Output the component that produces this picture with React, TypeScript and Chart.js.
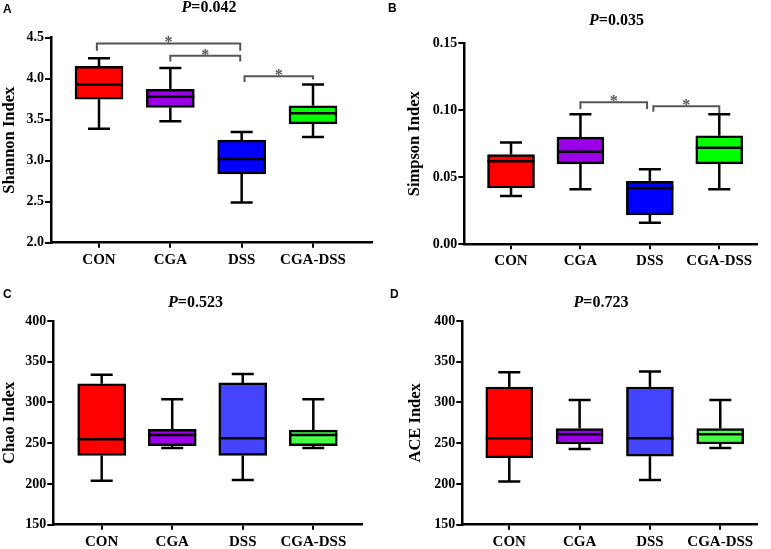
import React, { useEffect, useRef } from "react";
import { Chart, registerables } from "chart.js";

Chart.register(...registerables);

// ---------- data ----------
const categories = ["CON", "CGA", "DSS", "CGA-DSS"];

const shannonMin = [3.39, 3.48, 2.49, 3.29];
const shannonQ1 = [3.75, 3.65, 2.84, 3.45];
const shannonMedian = [3.93, 3.78, 3.02, 3.58];
const shannonQ3 = [4.15, 3.87, 3.25, 3.67];
const shannonMax = [4.25, 4.13, 3.35, 3.93];
const shannonTicks = [2.0, 2.5, 3.0, 3.5, 4.0, 4.5];
// [from, to, level, left end, right end]
const shannonBrackets = [
  [-0.03, 1.98, 4.43, 4.34, 4.34],
  [1.0, 1.98, 4.28, 4.21, 4.21],
  [2.04, 3.0, 4.03, 3.96, 3.99],
];

const simpsonMin = [0.036, 0.041, 0.016, 0.041];
const simpsonQ1 = [0.042, 0.06, 0.022, 0.06];
const simpsonMedian = [0.062, 0.069, 0.042, 0.072];
const simpsonQ3 = [0.067, 0.08, 0.047, 0.081];
const simpsonMax = [0.076, 0.097, 0.056, 0.097];
const simpsonTicks = [0.0, 0.05, 0.1, 0.15];
const simpsonBrackets = [
  [1.0, 1.96, 0.106, 0.101, 0.101],
  [2.05, 3.0, 0.103, 0.099, 0.098],
];

const chaoMin = [204, 244, 205, 244];
const chaoQ1 = [235, 247, 235, 247];
const chaoMedian = [255, 260, 256, 260];
const chaoQ3 = [323, 267, 324, 266];
const chaoMax = [334, 304, 335, 304];
const chaoTicks = [150, 200, 250, 300, 350, 400];

const aceMin = [203, 243, 205, 244];
const aceQ1 = [232, 249, 234, 249];
const aceMedian = [256, 261, 256, 261];
const aceQ3 = [319, 268, 319, 268];
const aceMax = [337, 303, 338, 303];
const aceTicks = [150, 200, 250, 300, 350, 400];

const pValues = ["0.042", "0.035", "0.523", "0.723"];
const panelLetters = ["A", "B", "C", "D"];
const yTitles = ["Shannon Index", "Simpson Index", "Chao Index", "ACE Index"];

// ---------- styles ----------
const colorsTop = ["#FF0000", "#9B00E8", "#0000FF", "#00FF00"];
const colorsBottom = ["#FF0000", "#9B00E8", "#4444FF", "#44FF44"];
const SERIF = "'Liberation Serif', 'Times New Roman', serif";
const SANS = "'Liberation Sans', Arial, sans-serif";

type PanelCfg = {
  left: number; top: number; width: number; height: number;
  plotLeft: number; plotRight: number; plotTop: number; plotBottom: number;
  xMin: number; xMax: number; decimals: number;
  ticks: number[]; yTitle: string; yTitlePad: number;
  p: string; titleX: number; titleY: number;
  letter: string; letterX: number; letterY: number;
  min: number[]; q1: number[]; med: number[]; q3: number[]; max: number[];
  colors: string[]; brackets: number[][]; boxWidth: number;
};

const panels: PanelCfg[] = [
  {
    left: 0, top: 0, width: 385, height: 275,
    plotLeft: 51, plotRight: 372, plotTop: 37.7, plotBottom: 242.7,
    xMin: -0.673, xMax: 3.827, decimals: 1,
    ticks: shannonTicks, yTitle: yTitles[0], yTitlePad: 0,
    p: pValues[0], titleX: 209, titleY: 8,
    letter: panelLetters[0], letterX: 3, letterY: 13.3,
    min: shannonMin, q1: shannonQ1, med: shannonMedian, q3: shannonQ3, max: shannonMax,
    colors: colorsTop, brackets: shannonBrackets, boxWidth: 48,
  },
  {
    left: 385, top: 0, width: 386, height: 275,
    plotLeft: 79.3, plotRight: 371.7, plotTop: 43.3, plotBottom: 244.3,
    xMin: -0.673, xMax: 3.539, decimals: 2,
    ticks: simpsonTicks, yTitle: yTitles[1], yTitlePad: 20,
    p: pValues[1], titleX: 231.5, titleY: 21,
    letter: panelLetters[1], letterX: 3, letterY: 11.7,
    min: simpsonMin, q1: simpsonQ1, med: simpsonMedian, q3: simpsonQ3, max: simpsonMax,
    colors: colorsTop, brackets: simpsonBrackets, boxWidth: 47,
  },
  {
    left: 0, top: 275, width: 385, height: 274,
    plotLeft: 53.3, plotRight: 361.7, plotTop: 46, plotBottom: 249.7,
    xMin: -0.686, xMax: 3.686, decimals: 0,
    ticks: chaoTicks, yTitle: yTitles[2], yTitlePad: 0,
    p: pValues[2], titleX: 195.5, titleY: 27.7,
    letter: panelLetters[2], letterX: 3, letterY: 22.7,
    min: chaoMin, q1: chaoQ1, med: chaoMedian, q3: chaoQ3, max: chaoMax,
    colors: colorsBottom, brackets: [], boxWidth: 48,
  },
  {
    left: 385, top: 275, width: 386, height: 274,
    plotLeft: 77.3, plotRight: 371.7, plotTop: 46, plotBottom: 249.7,
    xMin: -0.668, xMax: 3.518, decimals: 0,
    ticks: aceTicks, yTitle: yTitles[3], yTitlePad: 21,
    p: pValues[3], titleX: 216, titleY: 28,
    letter: panelLetters[3], letterX: 5, letterY: 23,
    min: aceMin, q1: aceQ1, med: aceMedian, q3: aceQ3, max: aceMax,
    colors: colorsBottom, brackets: [], boxWidth: 47,
  },
];

const boxPlugin = {
  id: "boxExtras",
  beforeDatasetsDraw(chart: any, _args: any, opts: any) {
    const cfg: PanelCfg = opts.cfg;
    if (!cfg) return;
    const { ctx } = chart;
    const xs = chart.scales.x;
    const ys = chart.scales.y;
    const capHalf = 11;
    ctx.save();
    ctx.strokeStyle = "#000";
    ctx.lineWidth = 2.5;
    ctx.lineCap = "butt";
    categories.forEach((_c, i) => {
      const x = xs.getPixelForValue(i);
      const yMax = ys.getPixelForValue(cfg.max[i]);
      const yQ3 = ys.getPixelForValue(cfg.q3[i]);
      const yQ1 = ys.getPixelForValue(cfg.q1[i]);
      const yMin = ys.getPixelForValue(cfg.min[i]);
      ctx.beginPath();
      ctx.moveTo(x, yQ3);
      ctx.lineTo(x, yMax);
      ctx.moveTo(x - capHalf, yMax);
      ctx.lineTo(x + capHalf, yMax);
      ctx.moveTo(x, yQ1);
      ctx.lineTo(x, yMin);
      ctx.moveTo(x - capHalf, yMin);
      ctx.lineTo(x + capHalf, yMin);
      ctx.stroke();
    });
    ctx.restore();
  },
  afterDatasetsDraw(chart: any, _args: any, opts: any) {
    const cfg: PanelCfg = opts.cfg;
    if (!cfg) return;
    const { ctx } = chart;
    const xs = chart.scales.x;
    const ys = chart.scales.y;
    ctx.save();
    ctx.strokeStyle = "#000";
    ctx.lineWidth = 2.5;
    categories.forEach((_c, i) => {
      const x = xs.getPixelForValue(i);
      const ym = ys.getPixelForValue(cfg.med[i]);
      const hw = cfg.boxWidth / 2;
      ctx.beginPath();
      ctx.moveTo(x - hw, ym);
      ctx.lineTo(x + hw, ym);
      ctx.stroke();
    });
    // significance brackets
    ctx.strokeStyle = "#555";
    ctx.fillStyle = "#555";
    ctx.lineWidth = 2;
    ctx.font = `bold 16px ${SERIF}`;
    ctx.textAlign = "center";
    ctx.textBaseline = "alphabetic";
    cfg.brackets.forEach((b) => {
      const x1 = xs.getPixelForValue(b[0]);
      const x2 = xs.getPixelForValue(b[1]);
      const yl = ys.getPixelForValue(b[2]);
      const y1 = ys.getPixelForValue(b[3]);
      const y2 = ys.getPixelForValue(b[4]);
      ctx.beginPath();
      ctx.moveTo(x1, y1);
      ctx.lineTo(x1, yl);
      ctx.lineTo(x2, yl);
      ctx.lineTo(x2, y2);
      ctx.stroke();
      ctx.fillText("*", (x1 + x2) / 2, yl + 4);
    });
    ctx.restore();
  },
  afterDraw(chart: any, _args: any, opts: any) {
    const cfg: PanelCfg = opts.cfg;
    if (!cfg) return;
    const { ctx } = chart;
    ctx.save();
    // title "P=..."
    const fItalic = `bold italic 16px ${SERIF}`;
    const fBold = `bold 16px ${SERIF}`;
    ctx.font = fItalic;
    const w1 = ctx.measureText("P").width;
    ctx.font = fBold;
    const rest = "=" + cfg.p;
    const w2 = ctx.measureText(rest).width;
    const sx = cfg.titleX - (w1 + w2) / 2;
    ctx.fillStyle = "#000";
    ctx.textAlign = "left";
    ctx.textBaseline = "middle";
    ctx.font = fItalic;
    ctx.fillText("P", sx, cfg.titleY);
    ctx.font = fBold;
    ctx.fillText(rest, sx + w1, cfg.titleY);
    // panel letter
    ctx.font = `bold 12px ${SANS}`;
    ctx.textBaseline = "alphabetic";
    ctx.fillText(cfg.letter, cfg.letterX, cfg.letterY);
    ctx.restore();
  },
};

function PanelChart({ cfg }: { cfg: PanelCfg }) {
  const ref = useRef<HTMLCanvasElement | null>(null);
  useEffect(() => {
    if (!ref.current) return;
    const chart = new Chart(ref.current, {
      type: "bar",
      data: {
        datasets: [
          {
            data: categories.map((_c, i) => ({ x: i, y: [cfg.q1[i], cfg.q3[i]] })) as any,
            backgroundColor: cfg.colors,
            borderColor: "#000",
            borderWidth: 2.5,
            borderSkipped: false,
            barThickness: cfg.boxWidth,
            grouped: false,
          } as any,
        ],
      },
      options: {
        responsive: false,
        animation: false,
        devicePixelRatio: 1,
        layout: {
          padding: {
            left: 0,
            top: cfg.plotTop,
            right: cfg.width - cfg.plotRight,
            bottom: 0,
          },
        },
        plugins: {
          legend: { display: false },
          tooltip: { enabled: false },
          title: { display: false },
          boxExtras: { cfg },
        } as any,
        scales: {
          x: {
            type: "linear",
            offset: false,
            min: cfg.xMin,
            max: cfg.xMax,
            afterBuildTicks: (s: any) => {
              s.ticks = categories.map((_c, i) => ({ value: i }));
            },
            afterFit: (s: any) => {
              s.height = cfg.height - cfg.plotBottom;
            },
            ticks: {
              callback: (v: any) => categories[Math.round(Number(v))] ?? "",
              color: "#000",
              font: { family: SERIF, size: 15, weight: "bold" },
              padding: 3,
              maxRotation: 0,
              autoSkip: false,
            },
            grid: {
              display: true,
              offset: false,
              drawOnChartArea: false,
              drawTicks: true,
              tickLength: 5,
              color: "#000",
              lineWidth: 2,
            },
            border: { display: true, color: "#000", width: 2.5 },
          },
          y: {
            type: "linear",
            min: cfg.ticks[0],
            max: cfg.ticks[cfg.ticks.length - 1],
            afterBuildTicks: (s: any) => {
              s.ticks = cfg.ticks.map((v) => ({ value: v }));
            },
            afterFit: (s: any) => {
              s.width = cfg.plotLeft;
            },
            ticks: {
              callback: (v: any) => Number(v).toFixed(cfg.decimals),
              color: "#000",
              font: { family: SERIF, size: 14, weight: "bold" },
              padding: 1,
            },
            grid: {
              display: true,
              drawOnChartArea: false,
              drawTicks: true,
              tickLength: 6,
              color: "#000",
              lineWidth: 2,
            },
            border: { display: true, color: "#000", width: 2.5 },
            title: {
              display: true,
              text: cfg.yTitle,
              color: "#000",
              font: { family: SERIF, size: 16.5, weight: "bold" },
              padding: { top: cfg.yTitlePad, bottom: 0 },
            },
          },
        },
      } as any,
      plugins: [boxPlugin as any],
    });
    return () => chart.destroy();
  }, [cfg]);
  return (
    <canvas
      ref={ref}
      width={cfg.width}
      height={cfg.height}
      style={{
        position: "absolute",
        left: cfg.left,
        top: cfg.top,
        width: cfg.width,
        height: cfg.height,
      }}
    />
  );
}

export default function App() {
  return (
    <div
      style={{
        position: "absolute",
        left: 0,
        top: 0,
        width: 771,
        height: 549,
        background: "#fff",
        overflow: "hidden",
      }}
    >
      {panels.map((p, i) => (
        <PanelChart key={i} cfg={p} />
      ))}
    </div>
  );
}
